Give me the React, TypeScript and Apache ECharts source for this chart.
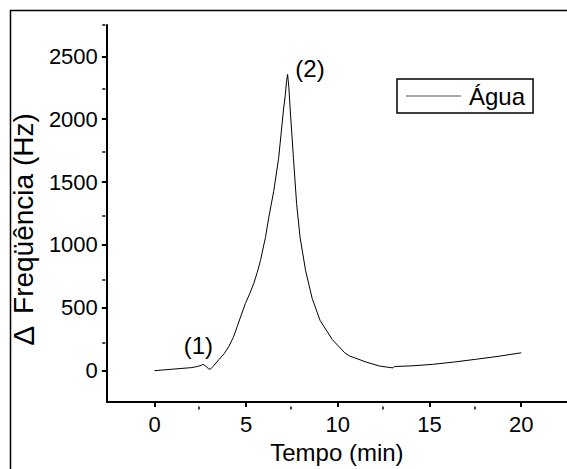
import React, { useEffect, useRef } from "react";
import * as echarts from "echarts";

const TIME = [
  0, 1.0, 2.0, 2.3, 2.55, 2.65, 2.8, 2.95, 3.05, 3.2, 3.52, 3.8, 4.06, 4.3, 4.51, 4.75,
  4.96, 5.2, 5.41, 5.6, 5.78, 6.05, 6.23, 6.5, 6.77, 7.04, 7.13, 7.2, 7.26, 7.33, 7.4,
  7.58, 7.75, 7.94, 8.24, 8.6, 9.03, 9.7, 10.38, 10.65, 10.92, 11.55, 12.27, 12.9, 13.0,
  13.1, 14.0, 15.16, 16.3, 17.5, 18.8, 20.0,
];
const AGUA = [
  0, 12, 24, 32, 42, 50, 35, 15, 12, 35, 89, 135, 194, 265, 351, 450,
  535, 615, 692, 780, 876, 1059, 1216, 1426, 1688, 2081, 2186, 2300, 2356, 2250, 2081,
  1688, 1330, 1060, 797, 575, 400, 247, 142, 116, 102, 68, 37, 24, 22,
  33, 38, 50, 68, 90, 115, 142,
];
const X_MAJOR = [0, 5, 10, 15, 20];
const X_MINOR = [2.5, 7.5, 12.5, 17.5];
const Y_MAJOR = [0, 500, 1000, 1500, 2000, 2500];
const Y_MINOR = [250, 750, 1250, 1750, 2250, 2750];
const PEAK_LABELS = [
  { name: "(1)", coord: [2.39, 202] },
  { name: "(2)", coord: [8.48, 2403] },
];
const SERIES_NAME = "Água";
const X_TITLE = "Tempo (min)";
const Y_TITLE = "{d|Δ} Freqüência (Hz)";

const FONT = "'Liberation Sans', Arial, sans-serif";
const X_RANGE = [-2.6, 22.5];
const Y_RANGE = [-250, 2750];

export default function App() {
  const ref = useRef<HTMLDivElement>(null);
  useEffect(() => {
    if (!ref.current) return;
    const chart = echarts.init(ref.current, undefined, { renderer: "svg" });
    const gridBox = { left: 105.3, top: 24.9, width: 463.6, height: 381.6 };
    const data = TIME.map((t, i) => [t, AGUA[i]]);
    const plain = (v: number) => String(v);
    chart.setOption({
      animation: false,
      textStyle: { fontFamily: FONT },
      grid: [
        { ...gridBox, containLabel: false },
        { ...gridBox, containLabel: false },
      ],
      legend: {
        left: 397,
        top: 79,
        data: [SERIES_NAME],
        orient: "horizontal",
        borderColor: "#000",
        borderWidth: 1.5,
        borderRadius: 0,
        padding: [5, 8, 5, 9],
        icon: "path://M0,0H55V1H0Z",
        itemWidth: 55,
        itemHeight: 1.2,
        itemStyle: { color: "#555", borderWidth: 0 },
        textStyle: { fontSize: 24, color: "#000", fontFamily: FONT, padding: [0, 0, 0, 3] },
      },
      xAxis: [
        {
          type: "value",
          gridIndex: 0,
          min: X_RANGE[0],
          max: X_RANGE[1],
          name: X_TITLE,
          nameLocation: "middle",
          nameGap: 33,
          nameTextStyle: { fontSize: 24, color: "#000", fontFamily: FONT },
          axisLine: { show: true, onZero: false, lineStyle: { color: "#000", width: 2 } },
          axisTick: { show: true, inside: false, length: 5, customValues: X_MAJOR, lineStyle: { color: "#000", width: 2 } },
          axisLabel: { show: true, customValues: X_MAJOR, formatter: plain, fontSize: 22, color: "#000", margin: 11, fontFamily: FONT },
          splitLine: { show: false },
        },
        {
          type: "value",
          gridIndex: 1,
          min: X_RANGE[0],
          max: X_RANGE[1],
          axisLine: { show: false, onZero: false },
          axisTick: { show: true, inside: false, length: 3, customValues: X_MINOR, lineStyle: { color: "#000", width: 1.5 } },
          axisLabel: { show: false },
          splitLine: { show: false },
        },
      ],
      yAxis: [
        {
          type: "value",
          gridIndex: 0,
          min: Y_RANGE[0],
          max: Y_RANGE[1],
          name: Y_TITLE,
          nameLocation: "middle",
          nameGap: 50,
          nameTextStyle: {
            fontSize: 28,
            color: "#000",
            fontFamily: FONT,
            padding: [0, 32, 0, 0],
            rich: { d: { fontSize: 30, color: "#000", fontFamily: FONT, padding: [0, 4, 0, 0] } },
          },
          axisLine: { show: true, onZero: false, lineStyle: { color: "#000", width: 2 } },
          axisTick: { show: true, inside: false, length: 5, customValues: Y_MAJOR, lineStyle: { color: "#000", width: 2 } },
          axisLabel: { show: true, customValues: Y_MAJOR, formatter: plain, fontSize: 22, color: "#000", margin: 9, fontFamily: FONT },
          splitLine: { show: false },
        },
        {
          type: "value",
          gridIndex: 1,
          min: Y_RANGE[0],
          max: Y_RANGE[1],
          axisLine: { show: false, onZero: false },
          axisTick: { show: true, inside: false, length: 3, customValues: Y_MINOR, lineStyle: { color: "#000", width: 1.5 } },
          axisLabel: { show: false },
          splitLine: { show: false },
        },
      ],
      graphic: [
        {
          type: "polyline",
          shape: { points: [[10.5, 470], [10.5, 10.5], [568, 10.5]] },
          style: { fill: "none", stroke: "#000", lineWidth: 1.5 },
          silent: true,
          z: 100,
        },
      ],
      series: [
        {
          name: SERIES_NAME,
          type: "line",
          xAxisIndex: 0,
          yAxisIndex: 0,
          data,
          showSymbol: false,
          symbol: "none",
          smooth: false,
          lineStyle: { color: "#000", width: 1 },
          itemStyle: { color: "#000" },
          markPoint: {
            symbol: "circle",
            symbolSize: 1,
            itemStyle: { color: "rgba(0,0,0,0)" },
            label: {
              show: true,
              position: "inside",
              formatter: "{b}",
              fontSize: 24,
              color: "#000",
              fontFamily: FONT,
            },
            data: PEAK_LABELS.map((p) => ({ name: p.name, coord: p.coord })),
          },
        },
      ],
    });
    return () => chart.dispose();
  }, []);
  return (
    <div
      ref={ref}
      style={{ position: "absolute", left: 0, top: 0, width: 567, height: 469, overflow: "hidden", background: "#fff" }}
    />
  );
}
